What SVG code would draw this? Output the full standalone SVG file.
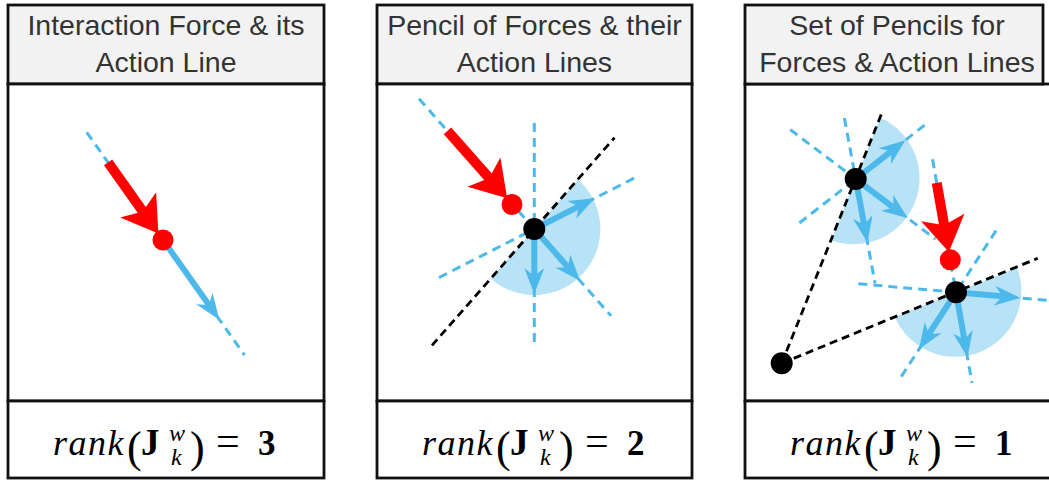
<svg xmlns="http://www.w3.org/2000/svg" width="1049" height="480" viewBox="0 0 1049 480">
<defs>
<style>
.box{fill:#ffffff;stroke:#111;stroke-width:2.8}
.hdr{fill:#f2f2f2;stroke:#111;stroke-width:2.8}
.ttl{font-family:"Liberation Sans",Arial,sans-serif;font-size:28.5px;fill:#333;text-anchor:middle}
.fm{font-family:"Liberation Serif","Times New Roman",serif;font-size:34px;fill:#000}
.it{font-style:italic}
.bd{font-weight:bold}
.bdash{stroke:#4db9ea;stroke-width:3;stroke-dasharray:9 6;fill:none}
.kdash{stroke:#000;stroke-width:2.8;stroke-dasharray:8 5;fill:none}
.barr{stroke:#4db9ea;stroke-width:6;fill:none;marker-end:url(#ahB)}
.rarr{stroke:#ff0000;stroke-width:10;fill:none;marker-end:url(#ahR)}
.fan{fill:#4db9ea;fill-opacity:0.4;stroke:none}
.rnode{fill:#ff0000}
.knode{fill:#000}
</style>
<marker id="ahB" markerUnits="userSpaceOnUse" viewBox="0 0 27 22" markerWidth="27" markerHeight="22" refX="8" refY="11" orient="auto">
<path d="M0,1 L26,11 L0,21 L8,11 Z" fill="#4db9ea"/>
</marker>
<marker id="ahR" markerUnits="userSpaceOnUse" viewBox="0 0 36 46" markerWidth="36" markerHeight="46" refX="8" refY="23" orient="auto">
<path d="M0,1 L35,23 L0,45 L8,23 Z" fill="#ff0000"/>
</marker>
</defs>

<!-- Panel frames -->
<g id="panel1">
<rect class="hdr" x="8" y="5" width="316" height="79"/>
<rect class="box" x="8" y="84" width="316" height="317"/>
<rect class="box" x="8" y="401" width="316" height="77"/>
<text class="ttl" x="166" y="35">Interaction Force &amp; its</text>
<text class="ttl" x="166" y="72">Action Line</text>
<text class="fm" y="455"><tspan class="it" x="53" font-size="36" letter-spacing="1.5">rank</tspan><tspan x="127" y="462" font-size="44">(</tspan><tspan class="bd" x="141" y="455" font-size="37">J</tspan><tspan class="it" x="169" y="441" font-size="24">w</tspan><tspan class="it" x="171" y="465" font-size="24">k</tspan><tspan x="190" y="462" font-size="44">)</tspan><tspan x="216" y="455" font-size="42">=</tspan><tspan class="bd" x="258" y="455" font-size="35">3</tspan></text>
</g>
<g id="panel2">
<rect class="hdr" x="377" y="5" width="315" height="79"/>
<rect class="box" x="377" y="84" width="315" height="317"/>
<rect class="box" x="377" y="401" width="315" height="77"/>
<text class="ttl" x="534.5" y="35">Pencil of Forces &amp; their</text>
<text class="ttl" x="534.5" y="72">Action Lines</text>
<text class="fm" y="455"><tspan class="it" x="422" font-size="36" letter-spacing="1.5">rank</tspan><tspan x="496" y="462" font-size="44">(</tspan><tspan class="bd" x="510" y="455" font-size="37">J</tspan><tspan class="it" x="538" y="441" font-size="24">w</tspan><tspan class="it" x="540" y="465" font-size="24">k</tspan><tspan x="559" y="462" font-size="44">)</tspan><tspan x="585" y="455" font-size="42">=</tspan><tspan class="bd" x="627" y="455" font-size="35">2</tspan></text>
</g>
<g id="panel3">
<rect class="box" x="745" y="84" width="320" height="317"/>
<rect class="box" x="745" y="401" width="320" height="77"/>
<rect class="hdr" x="745" y="5" width="298" height="79"/>
<text class="ttl" x="897" y="35">Set of Pencils for</text>
<text class="ttl" x="897" y="72">Forces &amp; Action Lines</text>
<text class="fm" y="455"><tspan class="it" x="790" font-size="36" letter-spacing="1.5">rank</tspan><tspan x="864" y="462" font-size="44">(</tspan><tspan class="bd" x="878" y="455" font-size="37">J</tspan><tspan class="it" x="906" y="441" font-size="24">w</tspan><tspan class="it" x="908" y="465" font-size="24">k</tspan><tspan x="927" y="462" font-size="44">)</tspan><tspan x="953" y="455" font-size="42">=</tspan><tspan class="bd" x="995" y="455" font-size="35">1</tspan></text>
</g>

<!-- Fans (cones) -->
<g id="fans">
<path id="fan-p2" class="fan" d="M534.3,229 L577.9,179.4 A66,66 0 0 1 490.7,278.6 Z"/>
<path id="fan-p3a" class="fan" d="M855.7,179 L880.3,117.8 A66,66 0 0 1 831.1,240.2 Z"/>
<path id="fan-p3b" class="fan" d="M956,292.3 L1017.1,267.4 A66,66 0 0 1 894.9,317.2 Z"/>
</g>

<!-- Connectors: action lines and force arrows -->
<g id="connectors">
<!-- panel 1 -->
<g transform="translate(163,240) rotate(54.7)">
<line class="bdash" x1="-132" y1="0" x2="141" y2="0"/>
<line class="barr" x1="0" y1="0" x2="79.6" y2="0"/>
<line class="rarr" x1="-95" y1="0" x2="-35" y2="0"/>
</g>
<!-- panel 2 -->
<g transform="translate(534.3,229)">
<g transform="rotate(48.5)">
<line class="bdash" x1="-174" y1="0" x2="116" y2="0"/>
<line class="barr" x1="0" y1="0" x2="51" y2="0"/>
</g>
<g transform="rotate(90)">
<line class="bdash" x1="-106" y1="0" x2="118" y2="0"/>
<line class="barr" x1="0" y1="0" x2="47" y2="0"/>
</g>
<g transform="rotate(-27)">
<line class="bdash" x1="-107" y1="0" x2="116" y2="0"/>
<line class="barr" x1="0" y1="0" x2="50" y2="0"/>
</g>
<line class="kdash" transform="rotate(-48.7)" x1="-155" y1="0" x2="121.5" y2="0"/>
<line class="rarr" transform="rotate(48.5)" x1="-131" y1="0" x2="-68" y2="0"/>
</g>
<!-- panel 3 -->
<line class="kdash" x1="781.7" y1="363.3" x2="881.7" y2="113.3"/>
<line class="kdash" x1="781.7" y1="363.3" x2="1037.7" y2="258.3"/>
<g transform="translate(855.7,179)">
<g transform="rotate(37)">
<line class="bdash" x1="-82" y1="0" x2="100" y2="0"/>
<line class="barr" x1="0" y1="0" x2="47.4" y2="0"/>
</g>
<g transform="rotate(79.5)">
<line class="bdash" x1="-62" y1="0" x2="106" y2="0"/>
<line class="barr" x1="0" y1="0" x2="46.5" y2="0"/>
</g>
<g transform="rotate(-38)">
<line class="bdash" x1="-71.5" y1="0" x2="91" y2="0"/>
<line class="barr" x1="0" y1="0" x2="45" y2="0"/>
</g>
</g>
<g transform="translate(956,292.3)">
<g transform="rotate(80)">
<line class="bdash" x1="-135" y1="0" x2="92" y2="0"/>
<line class="barr" x1="0" y1="0" x2="48" y2="0"/>
</g>
<g transform="rotate(123)">
<line class="bdash" x1="-73.5" y1="0" x2="102" y2="0"/>
<line class="barr" x1="0" y1="0" x2="50" y2="0"/>
</g>
<g transform="rotate(5)">
<line class="bdash" x1="-98" y1="0" x2="100" y2="0"/>
<line class="barr" x1="0" y1="0" x2="46.6" y2="0"/>
</g>
<line class="rarr" transform="rotate(80)" x1="-111" y1="0" x2="-68" y2="0"/>
</g>
</g>

<!-- Nodes -->
<g id="p1-contact"><circle class="rnode" cx="163" cy="240" r="10.5"/></g>
<g id="p2-contact"><circle class="rnode" cx="512" cy="204.5" r="10.5"/></g>
<g id="p2-pivot"><circle class="knode" cx="534.3" cy="229" r="11"/></g>
<g id="p3-contact"><circle class="rnode" cx="950.3" cy="259.8" r="10.5"/></g>
<g id="p3-pivotA"><circle class="knode" cx="855.7" cy="179" r="11"/></g>
<g id="p3-pivotB"><circle class="knode" cx="956" cy="292.3" r="11"/></g>
<g id="p3-pivotC"><circle class="knode" cx="781.7" cy="363.3" r="11"/></g>
</svg>
